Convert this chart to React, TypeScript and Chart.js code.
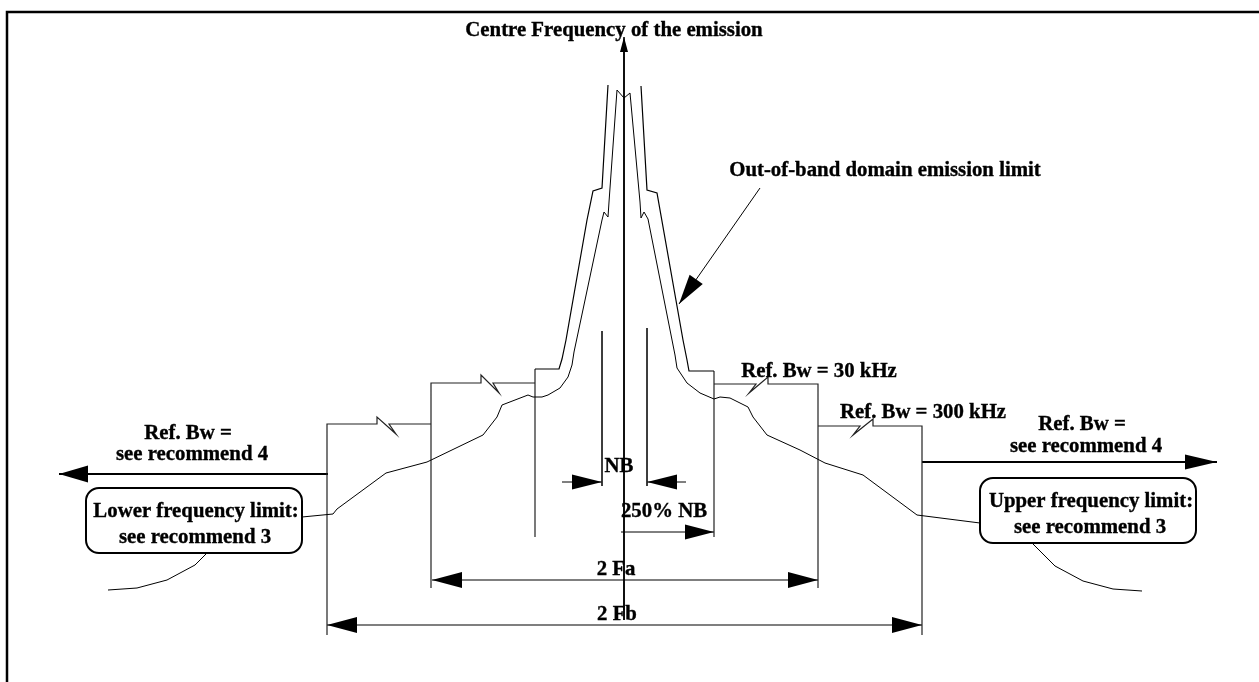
import React, { useEffect, useRef } from "react";
import { Chart, registerables } from "chart.js";

Chart.register(...registerables);

type P = [number, number];

// Diagram coordinates: x = frequency axis (left → right), y = drawing depth (top → bottom)
const frameLine: P[] = [[7, 682], [7, 12], [1259, 12]];
const centreAxis: P[] = [[624, 620], [624, 40]];

const outerLimitLeft: P[] = [[608, 85], [602, 188], [593, 191], [587, 220], [566, 340], [562, 359], [559, 369], [535, 369]];
const outerLimitRight: P[] = [[641, 86], [647, 190], [657, 193], [683, 340], [687, 360], [689, 371], [714, 371]];

const emissionSpectrum: P[] = [
  [302, 517], [333, 514], [337, 509], [386, 473], [427, 462], [483, 435], [497, 417], [502, 405],
  [528, 395], [533, 397], [542, 397], [548, 395], [560, 388], [568, 377], [572, 365], [574, 352],
  [602, 220], [604, 212], [608, 217], [609, 202], [617, 90], [624, 98], [630, 93], [640, 202],
  [641, 218], [644, 212], [648, 219], [675, 355], [677, 368], [687, 383], [700, 393], [714, 399],
  [720, 397], [730, 398], [748, 407], [753, 417], [767, 435], [800, 450], [825, 463], [863, 475],
  [917, 515], [980, 523],
];

const lowerLeader: P[] = [[207, 553], [195, 565], [167, 580], [137, 588], [108, 590]];
const upperLeader: P[] = [[1032, 543], [1055, 566], [1083, 581], [1113, 589], [1142, 591]];

const stepLeft1: P[] = [[327, 635], [327, 424], [377, 424], [377, 417], [396, 434], [389, 424], [431, 424]];
const stepLeft2: P[] = [[431, 588], [431, 383], [481, 383], [481, 375], [499, 393], [493, 383], [535, 383]];
const bandLeft: P[] = [[535, 369], [535, 537]];
const bandRight: P[] = [[714, 371], [714, 537]];
const stepRight2: P[] = [[714, 384], [756, 384], [749, 393], [768, 377], [768, 384], [818, 384], [818, 588]];
const stepRight1: P[] = [[818, 426], [860, 426], [853, 435], [873, 419], [873, 426], [922, 426], [922, 635]];
const nbLeft: P[] = [[602, 331], [602, 486]];
const nbRight: P[] = [[647, 328], [647, 486]];

type Arrow = { from: P; to: P; len: number; half: number; width: number; both?: boolean };
const arrows: Arrow[] = [
  { from: [624, 620], to: [624, 37], len: 15, half: 4, width: 1.5 },
  { from: [760, 188], to: [679, 304], len: 30, half: 8, width: 1 },
  { from: [562, 482], to: [602, 482], len: 30, half: 7.5, width: 1 },
  { from: [686, 482], to: [647, 482], len: 30, half: 7.5, width: 1 },
  { from: [621, 532], to: [714, 532], len: 29, half: 7.5, width: 1 },
  { from: [432, 580], to: [818, 580], len: 30, half: 8, width: 1.2, both: true },
  { from: [327, 625], to: [922, 625], len: 30, half: 8, width: 1.2, both: true },
  { from: [328, 474], to: [59, 474], len: 29, half: 8.5, width: 2 },
  { from: [922, 462], to: [1217, 462], len: 32, half: 7.5, width: 2 },
];

const boxes: [number, number, number, number][] = [
  [86, 488, 302, 553],
  [980, 478, 1196, 543],
];

const labels: { text: string; x: number; y: number }[] = [
  { text: "Centre Frequency of the emission", x: 614, y: 36 },
  { text: "Out-of-band domain emission limit", x: 885, y: 176 },
  { text: "Ref. Bw = 30 kHz", x: 819, y: 377 },
  { text: "Ref. Bw = 300 kHz", x: 923, y: 418 },
  { text: "Ref. Bw =", x: 1082, y: 430 },
  { text: "see recommend 4", x: 1086, y: 452 },
  { text: "Ref. Bw =", x: 188, y: 439 },
  { text: "see recommend 4", x: 192, y: 460 },
  { text: "Lower frequency limit:", x: 196, y: 517 },
  { text: "see recommend 3", x: 195, y: 543 },
  { text: "Upper frequency limit:", x: 1091, y: 507 },
  { text: "see recommend 3", x: 1090, y: 533 },
  { text: "NB", x: 619, y: 472 },
  { text: "250% NB", x: 664, y: 517 },
  { text: "2 Fa", x: 616, y: 575 },
  { text: "2 Fb", x: 617, y: 620 },
];

const FONT = '"Liberation Serif", "Times New Roman", serif';

function line(points: P[], width: number, color = "#000") {
  return {
    data: points.map(([x, y]) => ({ x, y })),
    showLine: true,
    borderColor: color,
    backgroundColor: color,
    borderWidth: width,
    pointRadius: 0,
    pointHoverRadius: 0,
    tension: 0,
    fill: false,
    clip: false as const,
  };
}

const diagramPlugin = {
  id: "diagramDecor",
  afterDatasetsDraw(chart: any) {
    const { ctx } = chart;
    const xs = chart.scales.x;
    const ys = chart.scales.y;
    const px = (p: P): P => [xs.getPixelForValue(p[0]), ys.getPixelForValue(p[1])];
    ctx.save();
    // rounded label boxes
    ctx.lineWidth = 2;
    ctx.strokeStyle = "#000";
    for (const b of boxes) {
      const [x0, y0] = px([b[0], b[1]]);
      const [x1, y1] = px([b[2], b[3]]);
      ctx.beginPath();
      ctx.roundRect(x0, y0, x1 - x0, y1 - y0, 13);
      ctx.stroke();
    }
    // arrowheads
    ctx.fillStyle = "#000";
    const head = (tipV: P, tailV: P, len: number, half: number) => {
      const tip = px(tipV);
      const tail = px(tailV);
      const dx = tip[0] - tail[0];
      const dy = tip[1] - tail[1];
      const d = Math.hypot(dx, dy) || 1;
      const ux = dx / d, uy = dy / d;
      const bx = tip[0] - ux * len, by = tip[1] - uy * len;
      ctx.beginPath();
      ctx.moveTo(tip[0], tip[1]);
      ctx.lineTo(bx - uy * half, by + ux * half);
      ctx.lineTo(bx + uy * half, by - ux * half);
      ctx.closePath();
      ctx.fill();
    };
    for (const a of arrows) {
      head(a.to, a.from, a.len, a.half);
      if (a.both) head(a.from, a.to, a.len, a.half);
    }
    // labels
    ctx.font = `bold 20px ${FONT}`;
    ctx.textAlign = "center";
    ctx.textBaseline = "alphabetic";
    ctx.lineWidth = 0.35;
    ctx.strokeStyle = "#000";
    for (const l of labels) {
      const [x, y] = px([l.x, l.y]);
      ctx.save();
      ctx.translate(x, y);
      ctx.scale(1.04, 1);
      ctx.fillText(l.text, 0, 0);
      ctx.strokeText(l.text, 0, 0);
      ctx.restore();
    }
    ctx.restore();
  },
};

export default function App() {
  const ref = useRef<HTMLCanvasElement | null>(null);
  useEffect(() => {
    if (!ref.current) return;
    const datasets: any[] = [
      line(frameLine, 2.5),
      line(centreAxis, 1.5),
      line(outerLimitLeft, 1.2),
      line(outerLimitRight, 1.2),
      line(emissionSpectrum, 1),
      line(lowerLeader, 1),
      line(upperLeader, 1),
      line(stepLeft1, 1.2, "#222"),
      line(stepLeft2, 1.2, "#222"),
      line(bandLeft, 1.2, "#222"),
      line(bandRight, 1.2, "#222"),
      line(stepRight2, 1.2, "#222"),
      line(stepRight1, 1.2, "#222"),
      line(nbLeft, 1, "#222"),
      line(nbRight, 1, "#222"),
      ...arrows.map((a) => line([a.from, a.to], a.width)),
    ];
    const chart = new Chart(ref.current, {
      type: "scatter",
      data: { datasets },
      options: {
        animation: false,
        responsive: false,
        maintainAspectRatio: false,
        layout: { padding: 0 },
        events: [],
        plugins: { legend: { display: false }, tooltip: { enabled: false } },
        scales: {
          x: { type: "linear", min: 0, max: 1259, display: false },
          y: { type: "linear", min: 0, max: 682, reverse: true, display: false },
        },
      },
      plugins: [diagramPlugin],
    });
    return () => chart.destroy();
  }, []);
  return (
    <div style={{ position: "fixed", left: 0, top: 0, width: 1259, height: 682, background: "#fff" }}>
      <canvas ref={ref} width={1259} height={682} style={{ display: "block" }} />
    </div>
  );
}
